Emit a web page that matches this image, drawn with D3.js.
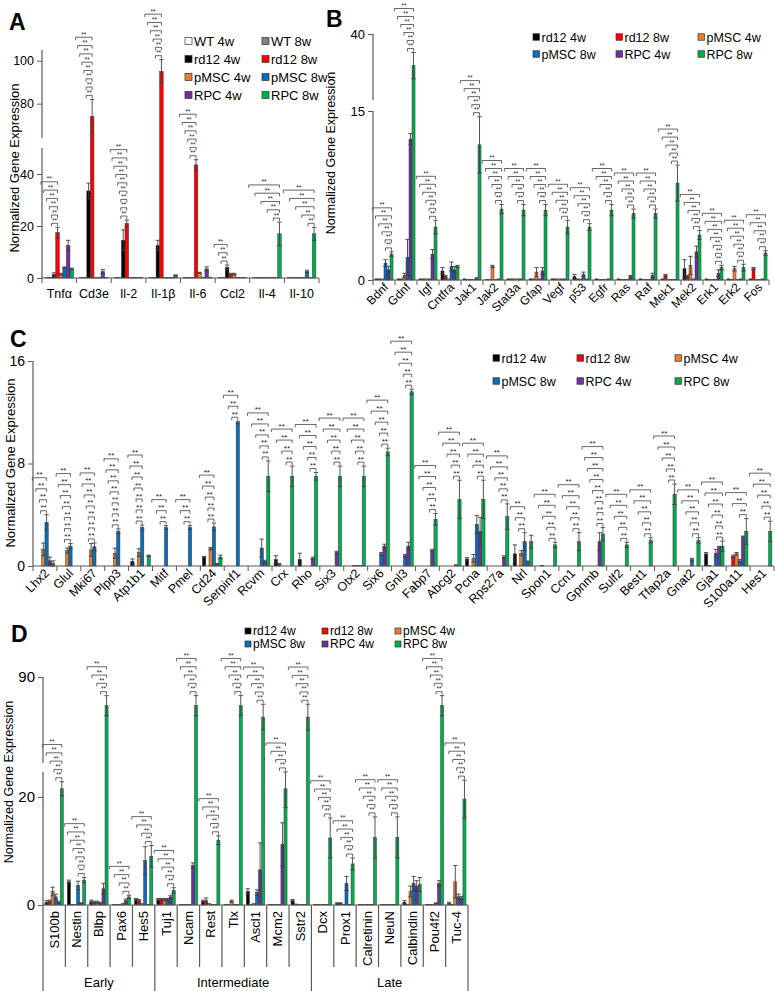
<!DOCTYPE html>
<html><head><meta charset="utf-8">
<script src="https://cdn.jsdelivr.net/npm/d3@7"></script>
<style>body{margin:0;background:#fff} text{font-family:Arial,"Liberation Sans",sans-serif}</style>
</head><body>
<svg id="c" width="775" height="991" xmlns="http://www.w3.org/2000/svg"></svg>
<script>
// ---------------- DATA ----------------
const series8 = ["WT 4w","WT 8w","rd12 4w","rd12 8w","pMSC 4w","pMSC 8w","RPC 4w","RPC 8w"];
const colors8 = ["#ffffff","#808080","#000000","#ff0000","#ed7d31","#0070c0","#7030a0","#00b050"];
const series6 = ["rd12 4w","rd12 8w","pMSC 4w","pMSC 8w","RPC 4w","RPC 8w"];
const colors6 = ["#000000","#ff0000","#ed7d31","#0070c0","#7030a0","#00b050"];

// Panel A
const catsA = ["Tnfα","Cd3e","Il-2","Il-1β","Il-6","Ccl2","Il-4","Il-10"];
const A_WT_4w   = [0.3,0.2,0.2,0.2,0.2,0.2,0.2,0.2];
const A_WT_8w   = [0.3,0.2,0.2,0.2,0.2,0.2,0.2,0.2];
const A_rd12_4w = [1.3,33.5,14.5,12.5,0.2,4.0,0.1,0.1];
const A_rd12_8w = [17.5,74,21,95,43.5,1.5,0.1,0.1];
const A_pMSC_4w = [1.5,0.2,0.2,0.2,2.0,1.5,0.1,0.1];
const A_pMSC_8w = [4.0,0.2,0.2,0.2,0.3,0.2,0.1,2.5];
const A_RPC_4w  = [12.5,2.5,0.2,0.2,3.5,0.2,0.1,0.1];
const A_RPC_8w  = [3.5,0.2,0.2,1.0,0.3,0.2,17,17];
const A_WT_4w_err   = [0,0,0,0,0,0,0,0];
const A_WT_8w_err   = [0,0,0,0,0,0,0,0];
const A_rd12_4w_err = [0.7,3,4,2,0,1,0,0];
const A_rd12_8w_err = [2,8,1.3,5.5,2,0.3,0,0];
const A_pMSC_4w_err = [0.3,0,0,0,0.2,0.3,0,0];
const A_pMSC_8w_err = [0.3,0,0,0,0,0,0,0.5];
const A_RPC_4w_err  = [2,0.8,0,0,0.8,0,0,0];
const A_RPC_8w_err  = [0.3,0,0,0.2,0,0,4.5,2.5];
const sigA = [6,8,9,6,6,3,5,5];
const ticksA = [0,20,40,80,100];

// Panel B
const catsB = ["Bdnf","Gdnf","Igf","Cntfra","Jak1","Jak2","Stat3a","Gfap","Vegf","p53","Egfr","Ras","Raf","Mek1","Mek2","Erk1","Erk2","Fos"];
const B_rd12_4w = [0.1,0.1,0.1,0.8,0.1,0.05,0.1,0.1,0.1,0.3,0.1,0.1,0.1,0.1,1.0,0.1,0.1,0.1];
const B_rd12_8w = [0.1,0.1,0.1,0.3,0.05,0.05,0.1,0.1,0.1,0.1,0.05,0.05,0.05,0.4,0.3,0.05,0.05,1.0];
const B_pMSC_4w = [0.1,0.4,0.1,0.1,0.05,1.2,0.1,0.7,0.1,0.1,0.05,0.05,0.05,0.05,1.3,0.05,1.0,0.05];
const B_pMSC_8w = [1.5,2.0,0.1,1.2,0.05,0.05,0.1,0.1,0.1,0.5,0.05,0.05,0.05,0.05,0.1,0.05,0.05,0.05];
const B_RPC_4w  = [0.9,12.5,2.3,0.9,0.2,0.1,0.1,0.8,0.1,0.1,0.1,0.3,0.4,0.05,2.5,0.6,0.1,0.1];
const B_RPC_8w  = [2.3,28,4.7,1.2,12,6.3,6.2,6.2,4.7,4.7,6.2,5.9,5.9,8.6,4.0,1.1,1.1,2.4];
const B_rd12_4w_err = [0,0,0,0.3,0,0,0,0,0,0.2,0,0,0,0,0.8,0,0,0];
const B_rd12_8w_err = [0,0,0,0.1,0,0,0,0,0,0,0,0,0,0.1,0.1,0,0,0.1];
const B_pMSC_4w_err = [0,0.2,0,0,0,0.1,0,0.4,0,0,0,0,0,0,0.8,0,0.2,0];
const B_pMSC_8w_err = [0.3,1.6,0,0.4,0,0,0,0,0,0.2,0,0,0,0,0,0,0,0];
const B_RPC_4w_err  = [0.3,0.5,0.4,0.3,0,0,0,0.3,0,0,0,0.1,0.2,0,0.5,0.3,0,0];
const B_RPC_8w_err  = [0.2,5,0.6,0.1,2.5,0.4,0.5,0.5,0.6,0.3,0.5,0.4,0.4,1.6,0.4,0.2,0.3,0.2];
const sigB = [6,6,6,0,5,6,5,5,5,5,5,5,5,5,5,7,6,5];
const ticksB = [0,15,40];

// Panel C
const catsC = ["Lhx2","Glul","Mki67","Plpp3","Atp1b1","Mitf","Pmel","Cd24","Serpinf1","Rcvm","Crx","Rho","Six3","Otx2","Six6","Gnl3","Fabp7","Abcg2","Pcna","Rps27a","Nrl","Spon1","Ccn1","Gpnmb","Sulf2","Best1","Tfap2a","Gnat2","Gja1","S100a11","Hes1"];
const C_rd12_4w = [0,0,0,0,0.35,0,0,0.7,0,0,0.5,0.5,0,0,0,0,0,0,0.55,0,0.95,0,0,0,0,0,0,0,0.95,0,0];
const C_rd12_8w = [0,0,0,0,0,0,0,0,0,0,0.15,0,0,0,0,0,0,0,0,0,0,0.05,0,0,0,0,0,0,0.05,0.75,0];
const C_pMSC_4w = [1.3,1.2,1.25,1.0,1.05,0,0,1.35,0,0,0,0,0,0.05,0,0,0,0,0.6,0,1.0,0,0,0,0,0,0,0,0,0.95,0];
const C_pMSC_8w = [3.4,1.55,1.5,2.7,3.0,3.0,3.0,3.05,11.2,1.4,0,0,0,0.05,0.95,0.8,0,0,3.25,0,1.9,0,0,0,0,0,0,0.5,1.0,0.4,0];
const C_RPC_4w  = [0.4,0,0,0,0,0,0,0.15,0,0.35,0,0.6,1.05,0.05,1.55,1.55,1.2,0.1,2.7,0.7,0.4,0,0,1.9,0,0,0,0,1.55,2.35,0];
const C_RPC_8w  = [0.2,0,0,0,0.8,0,0,0.7,0,7.0,7.0,7.0,7.0,7.0,8.9,13.6,3.65,5.2,5.2,3.85,1.9,1.65,1.9,2.5,1.65,2.0,5.6,2.0,1.55,2.7,2.7];
const C_rd12_4w_err = [0,0,0,0,0.2,0,0,0.05,0,0,0.3,0.5,0,0,0,0,0,0,0.1,0,0.7,0,0,0,0,0,0,0,0.1,0,0];
const C_rd12_8w_err = [0,0,0,0,0,0,0,0,0,0,0.05,0,0,0,0,0,0,0,0,0,0,0,0,0,0,0,0,0,0,0.1,0];
const C_pMSC_4w_err = [0.5,0.2,0.5,0.4,0.3,0,0,0.1,0,0,0,0,0,0,0,0,0,0,0.3,0,0.2,0,0,0,0,0,0,0,0,0.1,0];
const C_pMSC_8w_err = [0.6,0.2,0.3,0.2,0.2,0.15,0.15,0.3,0.1,0.7,0,0,0,0,0.1,0.1,0,0,0.7,0,0.7,0,0,0,0,0,0,0.1,0.3,0.1,0];
const C_RPC_4w_err  = [0.3,0,0,0,0,0,0,0.05,0,0.1,0,0.1,0.1,0,0.15,0.3,0.1,0,1.1,0.1,0,0,0,0.7,0,0,0,0,0,0,0];
const C_RPC_8w_err  = [0.2,0,0,0,0.05,0,0,0.15,0,1.2,0.8,0.3,0.8,0.8,0.3,0.2,0.45,1.5,1.5,1.0,0.5,0.2,0.7,0.5,0.2,0.2,0.8,0.2,0.4,1.0,0.8];
const sigC = [4,7,7,7,7,3,3,5,3,5,4,5,5,5,5,5,5,5,4,5,3,5,5,8,5,5,5,5,6,3,5];
const ticksC = [0,8,16];

// Panel D
const catsD = ["S100b","Nestin","Blbp","Pax6","Hes5","Tuj1","Ncam","Rest","Tlx","Ascl1","Mcm2","Sstr2","Dcx","Prox1","Calretinin","NeuN","Calbindin","Pou4f2","Tuc-4"];
const groupsD = [{name:"Early",from:0,to:5},{name:"Intermediate",from:5,to:12},{name:"Late",from:12,to:19}];
const D_rd12_4w = [0.5,4.3,0.6,0.1,1.0,1.0,0.1,0.7,0.1,2.5,0.1,0.8,0.1,0.3,0.1,0.1,0.5,0.1,0.3];
const D_rd12_8w = [0.7,0.1,0.5,0.1,0.8,1.0,0.1,0.8,0.1,0.1,0.1,0.2,0.1,0.3,0.1,0.1,0.1,0.1,0.1];
const D_pMSC_4w = [2.5,0.1,0.5,0.1,0.3,1.0,0.1,0.3,0.7,0.3,0.1,0.1,0.1,0.1,0.1,0.1,2.5,0.1,4.3];
const D_pMSC_8w = [1.5,3.6,0.3,0.3,8.2,1.0,0.1,0.1,0.1,2.3,0.1,0.1,0.1,4.0,0.1,0.1,4.0,0.3,1.5];
const D_RPC_4w  = [0.5,0.3,3.0,0.8,0.1,1.5,7.3,0.1,0.1,6.5,11.2,0.1,0.1,0.1,0.1,0.1,3.5,4.0,1.3];
const D_RPC_8w  = [21.5,4.6,80,1.5,9.0,2.7,80,12,80,76,21.5,76,12.4,7.6,12.5,12.5,3.8,80,19.6];
const D_rd12_4w_err = [0.3,0.3,0.3,0,0.2,0.2,0,0.2,0,0.5,0,0.2,0,0.1,0,0,0.3,0,0.2];
const D_rd12_8w_err = [0.2,0,0.2,0,0.2,0.2,0,0.5,0,0,0,0,0,0.1,0,0,0,0,0];
const D_pMSC_4w_err = [0.8,0,0.2,0,0,0.2,0,0,0.2,0,0,0,0,0,0,0,1.0,0,3.0];
const D_pMSC_8w_err = [0.5,0.8,0.2,0,2.6,0.2,0,0,0,0.5,0,0,0,1.3,0,0,1.3,0.1,0.5];
const D_RPC_4w_err  = [0.2,0.1,1.0,0.3,0,0.3,0.5,0,0,5,4,0,0,0,0,0,1.0,0.5,0.3];
const D_RPC_8w_err  = [1.3,0.5,3.5,0.3,2,0.5,3.5,0.8,3.5,4.5,3.5,4.5,3.7,1.1,3.8,3.8,1.3,3.5,3.5];
const sigD = [5,7,4,4,4,5,5,5,5,5,4,5,5,5,5,5,0,5,5];
const ticksD = [0,20,90];

// ---------------- DRAW ----------------
const svg = d3.select("#c");
const FONT = "Arial, 'Liberation Sans', sans-serif";
const AX = "#595959", ERR = "#404040";

function drawPanel(p) {
  const g = svg.append("g");
  const nS = p.series.length;
  const x = d3.scaleBand().domain(p.cats).range([p.x0, p.x1]).paddingInner(0.18).paddingOuter(0.09);
  const step = x.step();
  const xs = d3.scaleBand().domain(d3.range(nS)).range([0, x.bandwidth()]);
  const y = d3.scaleLinear().domain(p.yDomain).range(p.yRange);
  const y0 = y(0);
  const bw = xs.bandwidth();

  // bars
  p.series.forEach((vals, s) => {
    g.append("g").selectAll("rect").data(vals).join("rect")
      .attr("x", (v, i) => x(p.cats[i]) + xs(s))
      .attr("y", v => y(v))
      .attr("width", bw)
      .attr("height", v => Math.max(0, y0 - y(v)))
      .attr("fill", p.colors[s])
      .attr("stroke", v => v > 0 ? "#333" : "none")
      .attr("stroke-width", 0.5);
  });
  // error bars
  p.series.forEach((vals, s) => {
    const errs = p.errs[s];
    vals.forEach((v, i) => {
      const e = errs[i];
      if (!e) return;
      const cx = x(p.cats[i]) + xs(s) + bw / 2;
      const yt = y(v + e), yb = y(Math.max(0, v - e));
      const eg = g.append("g").attr("stroke", ERR).attr("stroke-width", 0.9);
      eg.append("line").attr("x1", cx).attr("x2", cx).attr("y1", yt).attr("y2", yb);
      eg.append("line").attr("x1", cx - 2.2).attr("x2", cx + 2.2).attr("y1", yt).attr("y2", yt);
      eg.append("line").attr("x1", cx - 2.2).attr("x2", cx + 2.2).attr("y1", yb).attr("y2", yb);
    });
  });
  // significance brackets
  p.cats.forEach((c, i) => {
    const n = p.sig[i];
    if (!n) return;
    let best = 0, top = -1;
    p.series.forEach((vals, s) => {
      const t = vals[i] + p.errs[s][i];
      if (t > top) { top = t; best = s; }
    });
    const rx = x(c) + xs(best) + bw / 2;
    const start = x(c) - step * 0.12;
    const base = y(top) - 4;
    const bg = g.append("g").attr("stroke", ERR).attr("stroke-width", 0.8).attr("fill", "none");
    for (let k = 0; k < n; k++) {
      const yy = base - k * p.sigStep;
      const span = Math.max(6, (rx - start) * (k + 1) / n);
      const lx = rx - span;
      const rxx = (rx - start < 8) ? rx + 5 + k * 2 : rx;
      bg.append("path").attr("d", `M${lx},${yy + 3}V${yy}H${rxx}V${yy + 3}`);
      g.append("text").attr("x", (lx + rxx) / 2).attr("y", yy - 0.5)
        .attr("text-anchor", "middle").attr("font-size", p.sigFont).attr("fill", "#222")
        .attr("font-family", FONT).text("**");
    }
  });

  // y axis
  const ax = g.append("g").attr("transform", `translate(${p.x0},0)`)
    .call(d3.axisLeft(y).tickValues(p.ticks).tickSize(5).tickSizeOuter(0));
  ax.select(".domain").remove();
  ax.selectAll("line").attr("stroke", AX);
  ax.selectAll("text").attr("font-size", p.tickFont).attr("fill", "#000").attr("font-family", FONT);
  p.segments.forEach(([a, b]) => {
    g.append("line").attr("x1", p.x0).attr("x2", p.x0).attr("y1", y(a)).attr("y2", y(b))
      .attr("stroke", AX).attr("stroke-width", 1.2);
  });
  // x axis
  g.append("line").attr("x1", p.x0).attr("x2", p.x1).attr("y1", y0).attr("y2", y0)
    .attr("stroke", AX).attr("stroke-width", 1.2);
  if (p.xTicks) {
    d3.range(p.cats.length + 1).forEach(k => {
      const xx = p.x0 + k * step;
      g.append("line").attr("x1", xx).attr("x2", xx).attr("y1", y0).attr("y2", y0 + p.xTicks)
        .attr("stroke", AX).attr("stroke-width", 1);
    });
  }
  // category labels
  p.cats.forEach(c => {
    const cx = x(c) + x.bandwidth() / 2;
    const t = g.append("text").attr("font-size", p.labelFont).attr("fill", "#000")
      .attr("font-family", FONT).text(c);
    if (p.labelMode === "flat") {
      t.attr("x", cx).attr("y", p.labelY).attr("text-anchor", "middle");
    } else if (p.labelMode === "rot45") {
      t.attr("text-anchor", "end").attr("transform", `translate(${cx + 5},${p.labelY}) rotate(-45)`);
    } else {
      t.attr("text-anchor", "end").attr("dy", "0.35em")
        .attr("transform", `translate(${cx},${p.labelY}) rotate(-90)`);
    }
  });
  // y title
  g.append("text").attr("transform", `translate(${p.titleX},${p.titleY}) rotate(-90)`)
    .attr("text-anchor", "middle").attr("font-size", p.titleFont).attr("fill", "#000")
    .attr("font-family", FONT).text("Normalized Gene Expression");
  // panel letter
  g.append("text").attr("x", p.letterX).attr("y", p.letterY).attr("font-size", 23)
    .attr("font-weight", "bold").attr("font-family", FONT).text(p.letter);
  // legend
  p.names.forEach((nm, s) => {
    const col = s % p.legCols.length, row = Math.floor(s / p.legCols.length);
    const lx = p.legCols[col], ly = p.legRows[row];
    g.append("rect").attr("x", lx).attr("y", ly - p.legSq / 2).attr("width", p.legSq).attr("height", p.legSq)
      .attr("fill", p.colors[s]).attr("stroke", "#333").attr("stroke-width", 0.7);
    g.append("text").attr("x", lx + p.legSq + 2).attr("y", ly).attr("dy", "0.36em")
      .attr("font-size", p.legFont).attr("font-family", FONT).attr("fill", "#000").text(nm);
  });
  return { x, y, step, g };
}

// Panel A
drawPanel({
  cats: catsA, names: series8, colors: colors8,
  series: [A_WT_4w, A_WT_8w, A_rd12_4w, A_rd12_8w, A_pMSC_4w, A_pMSC_8w, A_RPC_4w, A_RPC_8w],
  errs: [A_WT_4w_err, A_WT_8w_err, A_rd12_4w_err, A_rd12_8w_err, A_pMSC_4w_err, A_pMSC_8w_err, A_RPC_4w_err, A_RPC_8w_err],
  x0: 42, x1: 319, yDomain: [0, 50, 64, 105], yRange: [278, 148, 138, 50],
  segments: [[0, 50], [64, 105]], ticks: ticksA, tickFont: 12.5,
  xTicks: 5, labelMode: "flat", labelY: 298, labelFont: 12.5,
  sig: sigA, sigStep: 8.3, sigFont: 6.5,
  titleX: 19, titleY: 168, titleFont: 13, letter: "A", letterX: 9, letterY: 30,
  legCols: [185, 262], legRows: [41, 59, 77, 95], legSq: 7, legFont: 13
});
// Panel B
drawPanel({
  cats: catsB, names: series6, colors: colors6,
  series: [B_rd12_4w, B_rd12_8w, B_pMSC_4w, B_pMSC_8w, B_RPC_4w, B_RPC_8w],
  errs: [B_rd12_4w_err, B_rd12_8w_err, B_pMSC_4w_err, B_pMSC_8w_err, B_RPC_4w_err, B_RPC_8w_err],
  x0: 373, x1: 769, yDomain: [0, 15, 15.01, 40], yRange: [280, 111, 100, 34],
  segments: [[0, 15], [15.01, 40]], ticks: ticksB, tickFont: 13,
  xTicks: 5, labelMode: "rot45", labelY: 288, labelFont: 12,
  sig: sigB, sigStep: 8, sigFont: 6.5,
  titleX: 335, titleY: 153, titleFont: 12.5, letter: "B", letterX: 326, letterY: 27,
  legCols: [533, 616, 698], legRows: [37, 54], legSq: 6.5, legFont: 12.5
});
// Panel C
drawPanel({
  cats: catsC, names: series6, colors: colors6,
  series: [C_rd12_4w, C_rd12_8w, C_pMSC_4w, C_pMSC_8w, C_RPC_4w, C_RPC_8w],
  errs: [C_rd12_4w_err, C_rd12_8w_err, C_pMSC_4w_err, C_pMSC_8w_err, C_RPC_4w_err, C_RPC_8w_err],
  x0: 33, x1: 774, yDomain: [0, 16], yRange: [566, 361],
  segments: [[0, 16]], ticks: ticksC, tickFont: 14,
  xTicks: 5, labelMode: "rot45", labelY: 574, labelFont: 12.5,
  sig: sigC, sigStep: 11, sigFont: 8,
  titleX: 15, titleY: 463, titleFont: 13, letter: "C", letterX: 10, letterY: 347,
  legCols: [493, 577, 675], legRows: [358, 381], legSq: 6.5, legFont: 12.5
});
// Panel D
const D = drawPanel({
  cats: catsD, names: series6, colors: colors6,
  series: [D_rd12_4w, D_rd12_8w, D_pMSC_4w, D_pMSC_8w, D_RPC_4w, D_RPC_8w],
  errs: [D_rd12_4w_err, D_rd12_8w_err, D_pMSC_4w_err, D_pMSC_8w_err, D_RPC_4w_err, D_RPC_8w_err],
  x0: 43, x1: 468, yDomain: [0, 24.6, 60, 90], yRange: [905, 772, 763, 677],
  segments: [[0, 24.6], [60, 90]], ticks: ticksD, tickFont: 15,
  xTicks: 0, labelMode: "rot90", labelY: 911, labelFont: 13,
  sig: sigD, sigStep: 8.3, sigFont: 6.5,
  titleX: 13, titleY: 782, titleFont: 12.5, letter: "D", letterX: 11, letterY: 642,
  legCols: [245, 322, 395], legRows: [631, 644], legSq: 6, legFont: 12
});
// Panel D category boxes and groups
(function () {
  const g = D.g, step = D.step, y0 = D.y(0);
  d3.range(catsD.length + 1).forEach(k => {
    const xx = 43 + k * step;
    const isGroup = groupsD.some(gr => gr.from === k || gr.to === k);
    g.append("line").attr("x1", xx).attr("x2", xx).attr("y1", y0).attr("y2", isGroup ? 991 : 967)
      .attr("stroke", AX).attr("stroke-width", 1.2);
  });
  groupsD.forEach(gr => {
    const cx = 43 + (gr.from + gr.to) / 2 * step;
    g.append("text").attr("x", cx).attr("y", 987).attr("text-anchor", "middle")
      .attr("font-size", 13).attr("font-family", FONT).text(gr.name);
  });
})();
</script>
</body></html>
